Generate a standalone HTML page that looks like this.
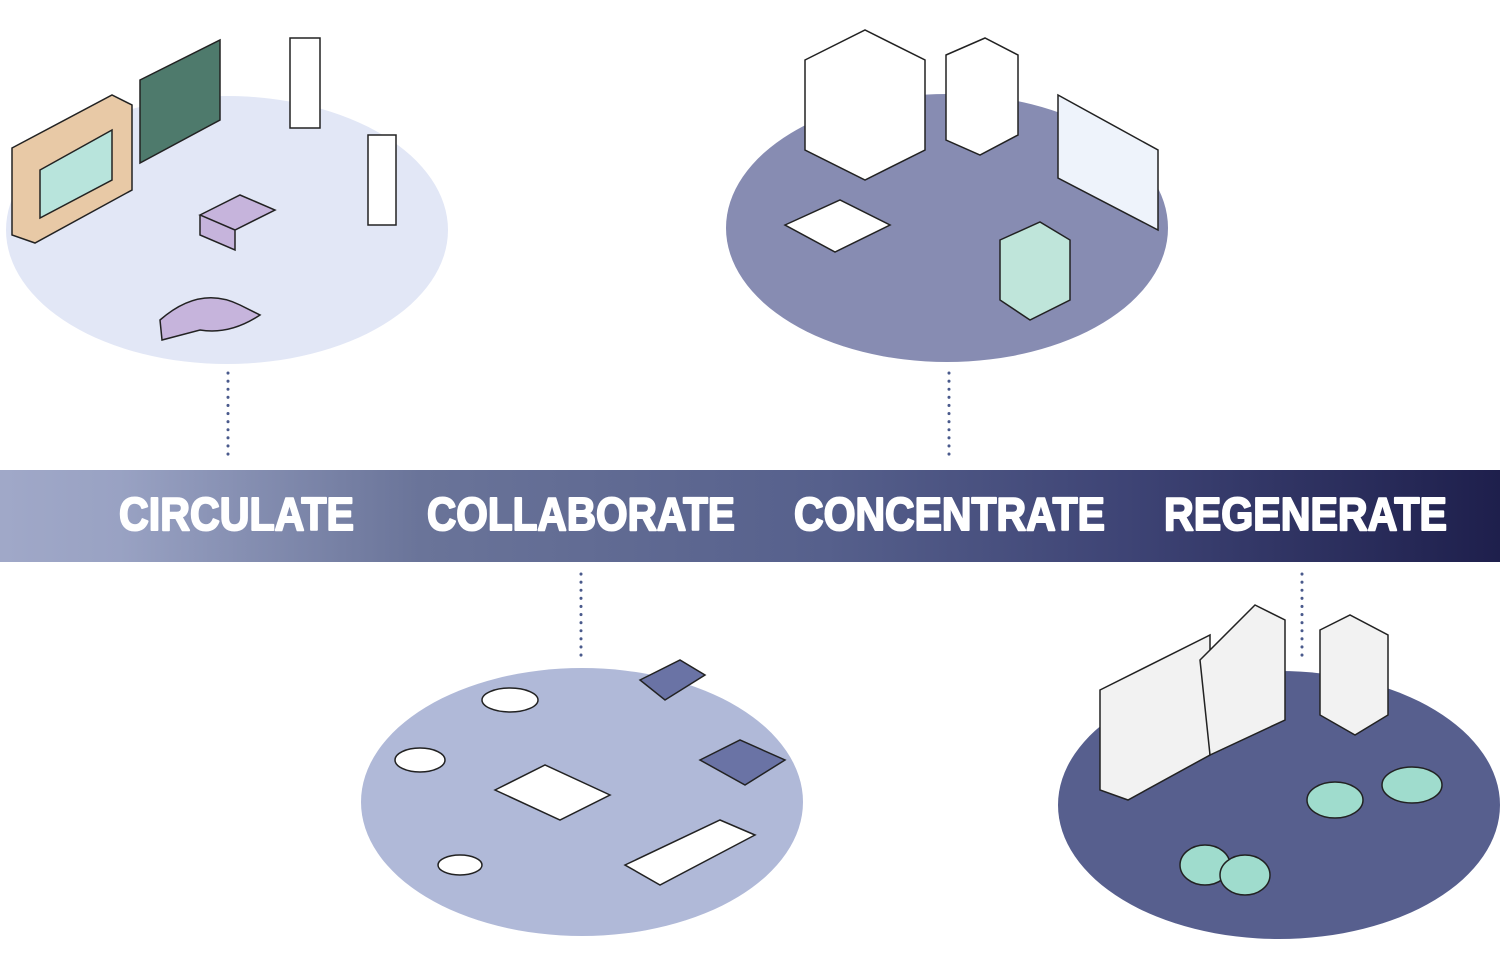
<!DOCTYPE html>
<html><head><meta charset="utf-8"><style>html,body{margin:0;padding:0;background:#fff}svg{display:block}</style></head>
<body>
<svg width="1500" height="964" viewBox="0 0 1500 964" xmlns="http://www.w3.org/2000/svg">
<defs>
<linearGradient id="band" x1="0" x2="1" y1="0" y2="0">
<stop offset="0" stop-color="#a0a8c8"/>
<stop offset="0.08" stop-color="#99a2c3"/>
<stop offset="0.28" stop-color="#6a7499"/>
<stop offset="0.55" stop-color="#56608c"/>
<stop offset="0.75" stop-color="#3e4475"/>
<stop offset="1" stop-color="#1e1f4c"/>
</linearGradient>
</defs>
<ellipse cx="227" cy="230" rx="221" ry="134" fill="#e2e7f6"/>
<ellipse cx="947" cy="228" rx="221" ry="134" fill="#878cb2"/>
<ellipse cx="582" cy="802" rx="221" ry="134" fill="#b0b9d8"/>
<ellipse cx="1279" cy="805" rx="221" ry="134" fill="#575f8e"/>

<g stroke="#222" stroke-width="1.5">
<polygon points="12,148 112,95 132,105 132,190 35,243 12,235" fill="#e8c9a6"/>
<polygon points="40,170 112,130 112,180 40,218" fill="#b8e4dc"/>
<polygon points="140,80 220,40 220,120 140,163" fill="#4e7a6c"/>
<rect x="290" y="38" width="30" height="90" fill="#fff"/>
<rect x="368" y="135" width="28" height="90" fill="#fff"/>
<path d="M200,215 l40,-20 l35,15 l-40,20z M200,215 v20 l35,15 v-20" fill="#c6b4dc"/>
<path d="M160,320 q40,-35 80,-15 l20,10 q-30,20 -60,15 l-38,10z" fill="#c6b4dc"/>
<polygon points="805,60 865,30 925,60 925,150 865,180 805,150" fill="#fff"/>
<polygon points="946,55 985,38 1018,55 1018,135 980,155 946,140" fill="#fff"/>
<polygon points="1058,95 1158,150 1158,230 1058,178" fill="#eef3fb"/>
<polygon points="785,225 840,200 890,225 835,252" fill="#fff"/>
<polygon points="1000,240 1040,222 1070,240 1070,300 1030,320 1000,300" fill="#bfe5da"/>
<polygon points="1100,690 1210,635 1210,755 1128,800 1100,790" fill="#f2f2f2"/>
<polygon points="1200,660 1255,605 1285,620 1285,720 1210,755" fill="#f2f2f2"/>
<polygon points="1320,630 1350,615 1388,635 1388,715 1355,735 1320,715" fill="#f2f2f2"/>
<ellipse cx="1335" cy="800" rx="28" ry="18" fill="#9fdccd"/>
<ellipse cx="1412" cy="785" rx="30" ry="18" fill="#9fdccd"/>
<ellipse cx="1205" cy="865" rx="25" ry="20" fill="#9fdccd"/>
<ellipse cx="1245" cy="875" rx="25" ry="20" fill="#9fdccd"/>
<polygon points="495,790 545,765 610,795 560,820" fill="#fff"/>
<polygon points="625,865 720,820 755,835 660,885" fill="#fff"/>
<ellipse cx="510" cy="700" rx="28" ry="12" fill="#fff"/>
<polygon points="700,760 740,740 785,760 745,785" fill="#6a73a5"/>
<ellipse cx="420" cy="760" rx="25" ry="12" fill="#fff"/>
<ellipse cx="460" cy="865" rx="22" ry="10" fill="#fff"/>
<polygon points="640,680 680,660 705,675 665,700" fill="#6a73a5"/>
</g>

<rect x="0" y="470" width="1500" height="92" fill="url(#band)"/>
<g font-family="Liberation Sans, sans-serif" font-weight="bold" font-size="46" fill="#fff" stroke="#fff" stroke-width="2" stroke-linejoin="round">
<text x="119" y="530" textLength="235" lengthAdjust="spacingAndGlyphs">CIRCULATE</text>
<text x="427" y="530" textLength="308" lengthAdjust="spacingAndGlyphs">COLLABORATE</text>
<text x="794" y="530" textLength="311" lengthAdjust="spacingAndGlyphs">CONCENTRATE</text>
<text x="1164" y="530" textLength="283" lengthAdjust="spacingAndGlyphs">REGENERATE</text>
</g>

<g stroke="#4a5a8c" stroke-width="3" stroke-linecap="round" stroke-dasharray="0.1 8">
<line x1="228" y1="373" x2="228" y2="458"/>
<line x1="949" y1="373" x2="949" y2="458"/>
<line x1="581" y1="574" x2="581" y2="660"/>
<line x1="1302" y1="574" x2="1302" y2="660"/>
</g>
</svg>
</body></html>
